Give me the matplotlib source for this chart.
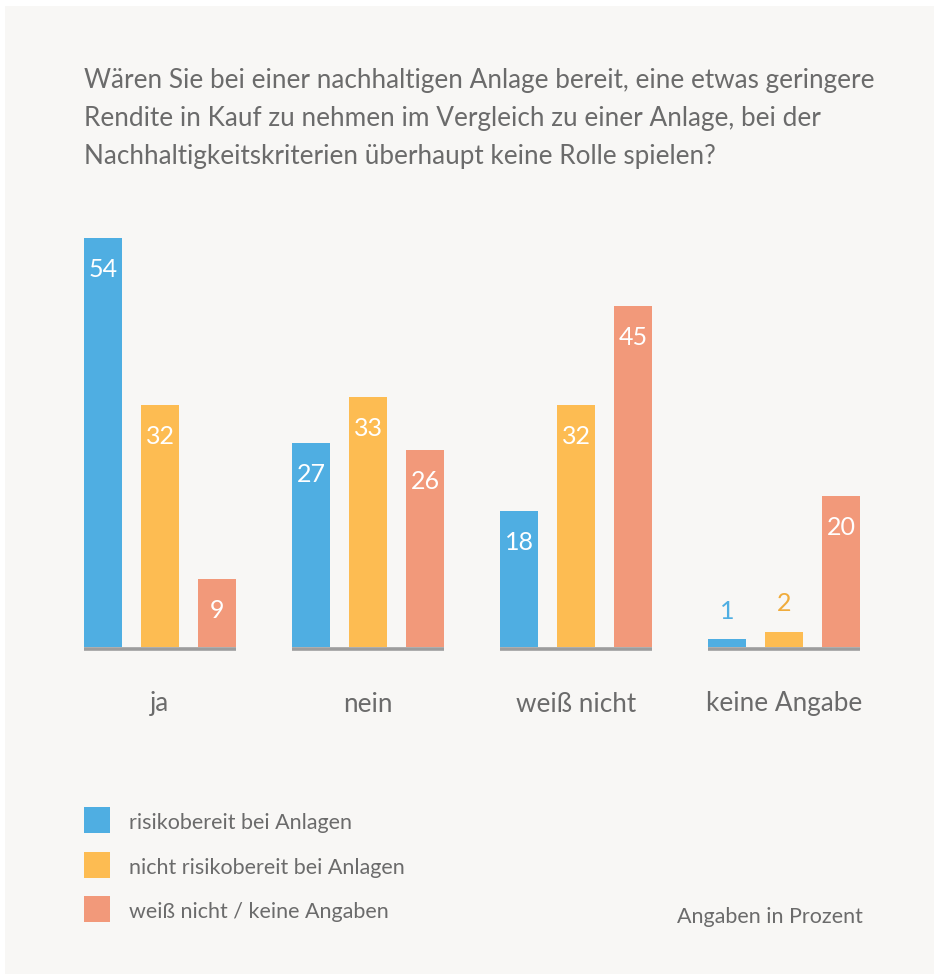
import matplotlib.pyplot as plt
import numpy as np

# data
categories = ["ja", "nein", "weiß nicht", "keine Angabe"]
series_names = ["risikobereit bei Anlagen",
                "nicht risikobereit bei Anlagen",
                "weiß nicht / keine Angaben"]
risk_yes = [54, 27, 18, 1]
risk_no = [32, 33, 32, 2]
unknown = [9, 26, 45, 20]

title_lines = ["Wären Sie bei einer nachhaltigen Anlage bereit, eine etwas geringere",
               "Rendite in Kauf zu nehmen im Vergleich zu einer Anlage, bei der",
               "Nachhaltigkeitskriterien überhaupt keine Rolle spielen?"]
note = "Angaben in Prozent"

colors = ["#4faee2", "#fdbc52", "#f2997a"]
label_out_colors = ["#4faee2", "#f0ac3c", "#f2997a"]
bg = "#f8f7f5"
txt = "#6b6b6b"

plt.rcParams['font.family'] = ['Lato', 'DejaVu Sans']

W, H = 934, 976
fig = plt.figure(figsize=(W/100, H/100), dpi=100)
fig.patch.set_facecolor("white")
# background panel
fig.patches.append(plt.Rectangle((5/W, 2/H), 1, 1 - 8/H, transform=fig.transFigure,
                                 facecolor=bg, edgecolor="none", zorder=-10))

ax = fig.add_axes([84/W, 1 - 647/H, 776/W, 409/H])
ax.set_facecolor("none")
step = 57/208
bw = 38/208
x = np.arange(len(categories))
data = [risk_yes, risk_no, unknown]
for k, vals in enumerate(data):
    xs = x + (k - 1)*step
    ax.bar(xs, vals, width=bw, color=colors[k], zorder=2)
    for xi, v in zip(xs, vals):
        if v >= 5:
            ax.text(xi, v - 4.2, str(v), ha="center", va="center", color="white",
                    fontsize=18, zorder=3)
        else:
            ax.text(xi, v + 3.7, str(v), ha="center", va="center",
                    color=label_out_colors[k], fontsize=18)
# baseline under each group
for xi in x:
    ax.plot([xi - step - bw/2, xi + step + bw/2], [-0.2, -0.2], color="#9d9d9d",
            lw=2.6, solid_capstyle="butt", clip_on=False, zorder=1)
ax.set_xlim(-step - bw/2, len(categories) - 1 + step + bw/2)
ax.set_ylim(0, 54)
ax.axis("off")

for xi, c in zip(x, categories):
    ax.annotate(c, (xi, 0), xytext=(0, -57), textcoords="offset pixels",
                ha="center", va="center", color=txt, fontsize=18.8)

for i, line in enumerate(title_lines):
    fig.text(84/W, 1 - (88 + 38*i)/H, line, ha="left", va="baseline", color=txt,
             fontsize=18.8)

# legend
for k, name in enumerate(series_names):
    yc = 820 + k*44.5
    fig.patches.append(plt.Rectangle((84/W, 1 - (yc + 13)/H), 26/W, 26/H,
                                     transform=fig.transFigure, facecolor=colors[k],
                                     edgecolor="none"))
    fig.text(129/W, 1 - (yc + 3)/H, name, ha="left", va="center", color=txt,
             fontsize=15.5)

fig.text(863/W, 1 - 917/H, note, ha="right", va="center", color=txt, fontsize=15.5)

plt.savefig("out.png", dpi=100, facecolor=fig.get_facecolor())
